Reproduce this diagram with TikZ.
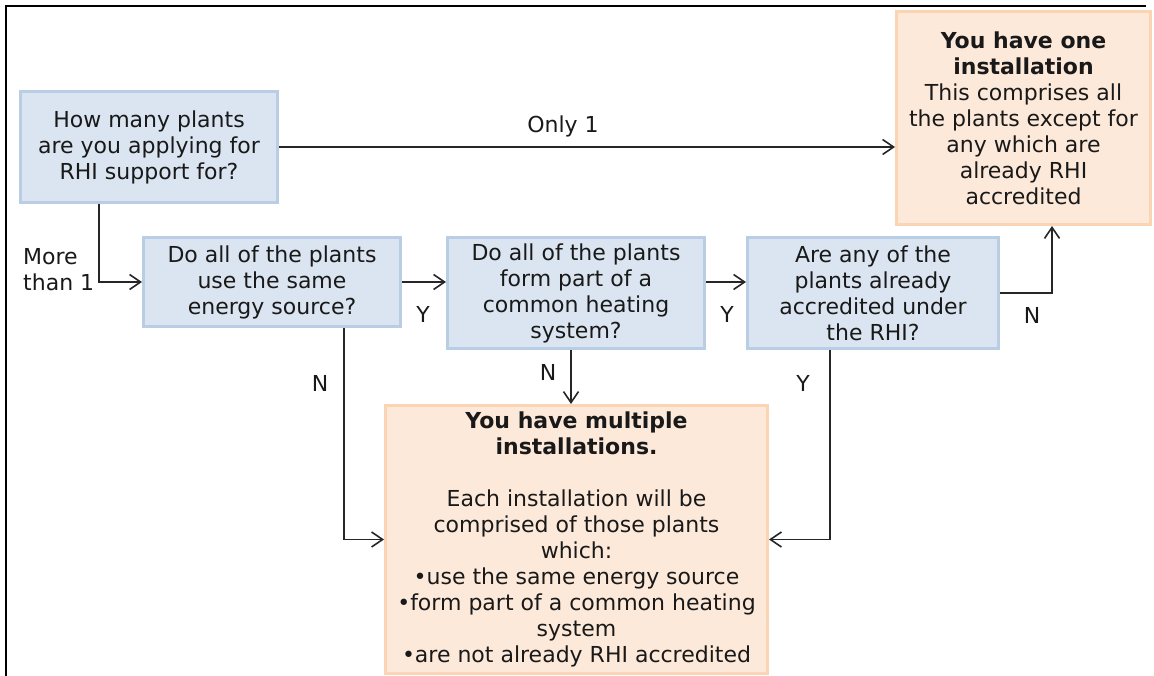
\documentclass[tikz,border=0pt]{standalone}
\usepackage{fontspec}
\setmainfont{DejaVu Sans}
\usetikzlibrary{arrows.meta}
\definecolor{bfill}{HTML}{DBE5F1}
\definecolor{bdraw}{HTML}{B9CDE5}
\definecolor{ofill}{HTML}{FDE9D9}
\definecolor{odraw}{HTML}{FBD4B4}
\definecolor{ln}{HTML}{262626}
\begin{document}
\begin{tikzpicture}[x=1pt,y=-1pt,
  every node/.style={font=\fontsize{22}{26}\selectfont, inner sep=0pt, text=black!90},
  qbox/.style={draw=bdraw, fill=bfill, line width=3pt, align=center},
  obox/.style={draw=odraw, fill=ofill, line width=3pt, align=center},
  conn/.style={draw=ln, line width=1.8pt, -{Straight Barb[length=11pt,width=15pt,line width=1.6pt]}},
  lbl/.style={}]
\useasboundingbox (0,0) rectangle (1154,676);
\draw[line width=2.5pt] (6,676) -- (6,6) -- (1146,6);

\node[qbox, minimum width=257pt, minimum height=111pt] (A) at (149,147)
  {How many plants\\are you applying for\\RHI support for?};
\node[qbox, minimum width=257pt, minimum height=89pt] (B) at (272,282)
  {Do all of the plants\\use the same\\energy source?};
\node[qbox, minimum width=257pt, minimum height=111pt] (C) at (576,293)
  {Do all of the plants\\form part of a\\common heating\\system?};
\node[qbox, minimum width=251pt, minimum height=111pt] (D) at (873,293)
  {Are any of the\\plants already\\accredited under\\the RHI?};
\node[obox, minimum width=254pt, minimum height=213pt] (E) at (1023.5,118)
  {\textbf{You have one}\\\textbf{installation}\\This comprises all\\the plants except for\\any which are\\already RHI\\accredited};
\node[obox, minimum width=382pt, minimum height=268pt] (F) at (576.5,539.5)
  {\textbf{You have multiple}\\\textbf{installations.}\\[26pt]Each installation will be\\comprised of those plants\\which:\\•use the same energy source\\•form part of a common heating\\system\\•are not already RHI accredited};

\coordinate (xa) at (99,0);
\coordinate (xb) at (344,0);
\coordinate (xc) at (571,0);
\coordinate (xd) at (830,0);
\coordinate (xe) at (1052,0);

\draw[conn] (A.east) -- (A.east -| E.west);
\draw[conn] (A.south -| xa) |- (B.west);
\draw[conn] (B.east) -- (B.east -| C.west);
\draw[conn] (C.east |- B.east) -- (D.west |- B.east);
\draw[conn] (D.east) -| (E.south -| xe);
\draw[conn] (C.south -| xc) -- (F.north -| xc);
\draw[conn] (B.south -| xb) |- (F.west);
\draw[conn] (D.south -| xd) |- (F.east);

\node[lbl] (l1) at (563,126) {Only 1};
\node[lbl, align=left, anchor=west] (l2) at (23,270) {More\\than 1};
\node[lbl] (l3) at (423,314) {Y};
\node[lbl] (l4) at (727,314) {Y};
\node[lbl] (l5) at (1032,315) {N};
\node[lbl] (l6) at (548,372) {N};
\node[lbl] (l7) at (320,383) {N};
\node[lbl] (l8) at (803,383) {Y};
\end{tikzpicture}
\end{document}
